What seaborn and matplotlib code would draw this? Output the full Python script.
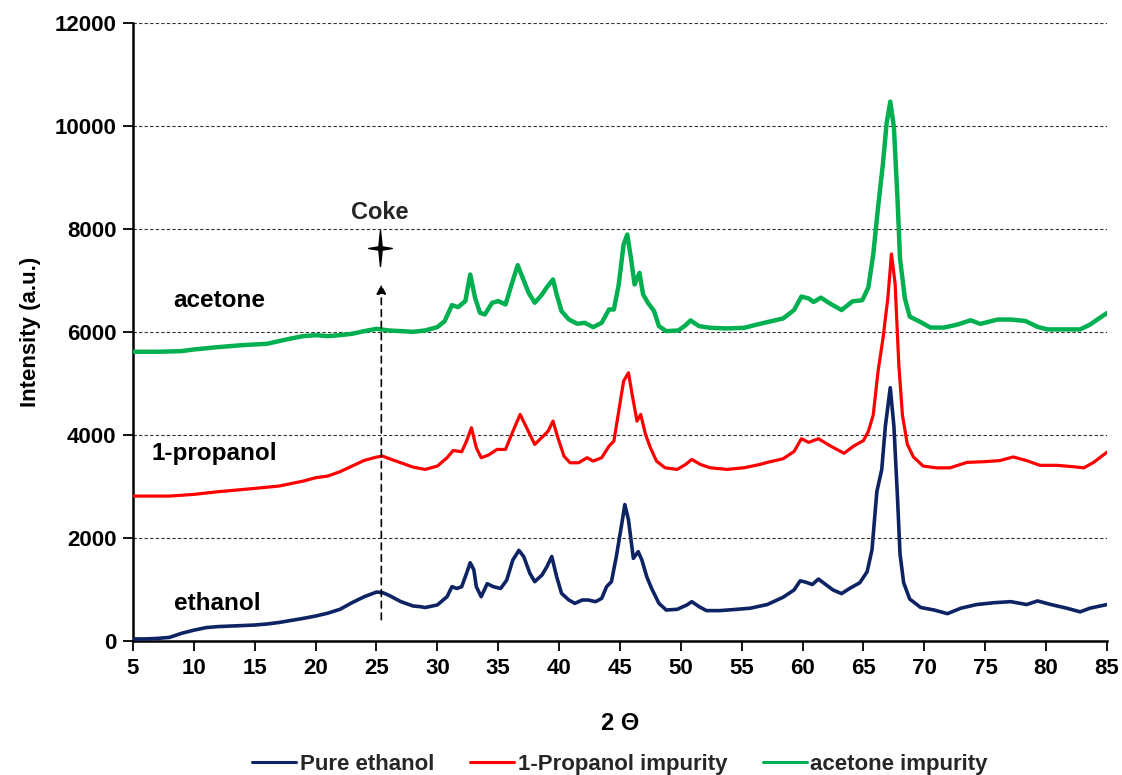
import matplotlib
matplotlib.use("Agg")
import matplotlib.pyplot as plt
import seaborn as sns
import pandas as pd
from matplotlib.path import Path

# ---------------- data ----------------
eth_x = [5, 6, 7, 8, 9, 10, 11, 12, 13, 14, 15, 16, 17, 18, 19, 20, 21, 22, 23, 24, 25, 25.5, 26, 27, 28, 28.6, 29, 30,
         30.8, 31.2, 31.6, 32.0, 32.4, 32.7, 33.0, 33.2, 33.6, 34.1, 34.6, 35.2, 35.7, 36.2, 36.7, 37.1, 37.6, 38.0,
         38.6, 39.0, 39.4, 39.8, 40.2, 40.8, 41.3, 41.9, 42.4, 43.0, 43.5, 43.9, 44.3, 44.7, 45.2, 45.4, 45.7, 46.1,
         46.5, 46.8, 47.2, 47.6, 48.2, 48.8, 49.7, 50.5, 50.9, 51.5, 52.1, 53.2, 54.6, 55.7, 57.1, 58.4, 59.3, 59.8,
         60.2, 60.8, 61.3, 61.9, 62.5, 63.2, 63.9, 64.7, 65.3, 65.7, 66.1, 66.5, 66.8, 67.2, 67.5, 67.8, 68.0, 68.3,
         68.8, 69.7, 70.8, 71.9, 73.0, 74.3, 75.7, 77.1, 78.4, 79.3, 80.4, 81.7, 82.8, 83.6, 85]
eth_y = [40, 40, 50, 70, 150, 210, 260, 280, 290, 300, 310, 330, 360, 400, 440, 485, 540, 615, 745, 860, 950, 940, 890,
         765, 680, 667, 650, 700, 861, 1055, 1020, 1055, 1314, 1520, 1380, 1055, 861, 1113, 1055, 1020, 1184, 1573,
         1760, 1637, 1314, 1152, 1282, 1443, 1640, 1249, 926, 796, 731, 796, 796, 764, 828, 1055, 1152, 1637, 2350,
         2650, 2350, 1605, 1735, 1573, 1249, 1020, 731, 602, 615, 700, 764, 667, 590, 590, 615, 637, 708, 850, 991,
         1168, 1147, 1097, 1203, 1097, 991, 920, 1026, 1132, 1345, 1769, 2902, 3326, 4175, 4918, 4175, 2760, 1698,
         1132, 814, 651, 602, 531, 637, 708, 743, 764, 708, 778, 708, 637, 566, 637, 708]

pro_x = [5, 8, 10, 12, 15, 17, 19, 20, 21, 22, 23, 24, 25, 25.5, 26, 27, 28, 29, 30, 30.8, 31.3, 32.0, 32.4, 32.8,
         33.2, 33.6, 34.2, 34.9, 35.6, 36.1, 36.8, 37.2, 38.0, 38.7, 39.1, 39.5, 39.9, 40.4, 40.9, 41.6, 42.3, 42.8,
         43.5, 44.1, 44.5, 44.9, 45.3, 45.7, 46.0, 46.4, 46.7, 47.1, 47.5, 48.0, 48.7, 49.7, 50.4, 50.9, 51.6, 52.4,
         53.8, 55.2, 56.5, 57.1, 58.4, 59.3, 59.9, 60.5, 61.3, 62.3, 63.4, 64.2, 65.0, 65.4, 65.8, 66.2, 66.6, 67.0,
         67.3, 67.6, 67.9, 68.2, 68.6, 69.1, 69.9, 71.0, 72.1, 73.5, 74.9, 76.2, 77.3, 78.4, 79.5, 80.9, 82.3, 83.1,
         83.9, 85]
pro_y = [2814, 2814, 2847, 2899, 2963, 3009, 3106, 3170, 3203, 3287, 3397, 3507, 3571, 3591, 3545, 3461, 3377, 3332,
         3397, 3559, 3700, 3675, 3882, 4141, 3753, 3559, 3610, 3720, 3720, 4011, 4400, 4206, 3817, 3979, 4076, 4270,
         3947, 3591, 3461, 3461, 3559, 3494, 3559, 3785, 3882, 4464, 5047, 5208, 4788, 4270, 4400, 4011, 3753, 3494,
         3364, 3332, 3429, 3526, 3429, 3364, 3332, 3364, 3429, 3468, 3539, 3680, 3928, 3857, 3928, 3786, 3645, 3786,
         3892, 4069, 4388, 5237, 5874, 6652, 7516, 6935, 5379, 4388, 3822, 3574, 3397, 3362, 3362, 3468, 3482, 3503,
         3574, 3503, 3411, 3411, 3383, 3362, 3468, 3666]

ace_x = [5, 7, 9, 10, 12, 14, 15, 16, 17, 18, 19, 20, 21, 22, 23, 24, 25, 26, 27, 28, 29, 30, 30.6, 31.2, 31.7, 32.3,
         32.7, 33.1, 33.5, 33.9, 34.5, 35.0, 35.6, 36.1, 36.6, 36.9, 37.5, 38.0, 38.6, 39.0, 39.5, 39.8, 40.2, 40.8,
         41.5, 42.1, 42.8, 43.5, 44.1, 44.5, 44.9, 45.3, 45.6, 45.9, 46.2, 46.6, 46.9, 47.3, 47.8, 48.2, 48.8, 49.8,
         50.4, 50.8, 51.5, 52.4, 53.8, 55.2, 56.5, 57.1, 58.4, 59.3, 59.9, 60.5, 60.9, 61.5, 62.3, 63.2, 64.1, 64.9,
         65.4, 65.8, 66.2, 66.6, 66.9, 67.2, 67.5, 67.8, 68.0, 68.4, 68.8, 69.7, 70.5, 71.6, 72.7, 73.8, 74.6, 76.0,
         77.1, 78.3, 79.3, 80.1, 81.5, 82.8, 83.6, 85]
ace_y = [5616, 5616, 5629, 5661, 5707, 5745, 5758, 5771, 5823, 5875, 5920, 5939, 5920, 5939, 5965, 6017, 6062, 6030,
         6017, 6004, 6030, 6095, 6211, 6522, 6483, 6600, 7117, 6664, 6373, 6341, 6567, 6600, 6535, 6923, 7298, 7117,
         6761, 6567, 6729, 6871, 7020, 6729, 6406, 6244, 6159, 6179, 6095, 6179, 6438, 6438, 6923, 7699, 7893, 7440,
         6923, 7149, 6729, 6567, 6406, 6114, 6017, 6030, 6134, 6224, 6114, 6082, 6069, 6082, 6159, 6192, 6263, 6426,
         6688, 6652, 6582, 6667, 6546, 6426, 6596, 6617, 6865, 7502, 8422, 9271, 10049, 10474, 9979, 8563, 7431, 6652,
         6299, 6192, 6086, 6086, 6143, 6228, 6157, 6242, 6242, 6214, 6100, 6051, 6051, 6051, 6143, 6369]

series_names = ["Pure ethanol", "1-Propanol impurity", "acetone impurity"]
series_colors = ["#0d2363", "#ff0000", "#00b050"]
series_lw = [2.6, 2.3, 3.2]

x_ticks = list(range(5, 90, 5))
y_ticks = list(range(0, 14000, 2000))

curve_labels = ["ethanol", "1-propanol", "acetone"]
curve_label_pos = [(11.9, 720), (11.7, 3650), (12.1, 6620)]

coke_x = 25.4
coke_text_y = 8330
coke_star_y = 7640
arrow_bottom, arrow_top = 360, 6980

# ---------------- figure ----------------
sns.set_theme(style="white")
plt.rcParams["font.family"] = ["Liberation Sans", "DejaVu Sans"]
plt.rcParams["font.weight"] = "bold"

fig = plt.figure(figsize=(11.22, 7.75), dpi=100)
ax = fig.add_axes([0.1185, 0.1729, 0.8681, 0.7974])

frames = []
for name, xs, ys in zip(series_names, [eth_x, pro_x, ace_x], [eth_y, pro_y, ace_y]):
    frames.append(pd.DataFrame({"x": xs, "y": ys, "series": name}))
df = pd.concat(frames, ignore_index=True)

for name, col, lw in zip(series_names, series_colors, series_lw):
    sub = df[df["series"] == name]
    sns.lineplot(data=sub, x="x", y="y", color=col, linewidth=lw, ax=ax,
                 estimator=None, sort=False, label=name, zorder=3)

ax.set_xlim(5, 85)
ax.set_ylim(0, 12000)
ax.set_xticks(x_ticks)
ax.set_yticks(y_ticks)
ax.tick_params(axis="both", labelsize=16, direction="out", length=7, width=1.3, color="black",
               left=True, bottom=True, pad=5, labelcolor="black")
for lab in ax.get_xticklabels() + ax.get_yticklabels():
    lab.set_fontweight("bold")

ax.yaxis.grid(True, linestyle=(0, (3, 2)), color="#333333", linewidth=0.8)
ax.xaxis.grid(False)
for s in ["top", "right"]:
    ax.spines[s].set_visible(False)
for s in ["left", "bottom"]:
    ax.spines[s].set_color("black")
    ax.spines[s].set_linewidth(1.8)

ax.set_xlabel("2 Θ", fontsize=17, fontweight="bold", labelpad=24, color="black")
ax.set_ylabel("Intensity (a.u.)", fontsize=16, fontweight="bold", labelpad=10, color="black")

for txt, (tx, ty) in zip(curve_labels, curve_label_pos):
    ax.text(tx, ty, txt, fontsize=17.5, fontweight="bold", ha="center", va="center", color="black")

# Coke annotation
ax.annotate("", xy=(coke_x, arrow_top), xytext=(coke_x, arrow_bottom),
            arrowprops=dict(arrowstyle="-|>", linestyle=(0, (4, 3)), color="black", lw=1.2,
                            mutation_scale=14))
star = Path([(0, 1.3), (0.12, 0.12), (0.85, 0), (0.12, -0.12), (0, -1.3), (-0.12, -0.12),
             (-0.85, 0), (-0.12, 0.12), (0, 1.3)],
            [Path.MOVETO] + [Path.LINETO] * 7 + [Path.CLOSEPOLY])
ax.plot([coke_x - 0.1], [coke_star_y], marker=star, markersize=26, color="black", zorder=5)
ax.text(coke_x - 0.1, coke_text_y, "Coke", fontsize=17, fontweight="bold", ha="center", va="center")

leg = ax.legend(loc="upper center", bbox_to_anchor=(0.5, -0.15), ncol=3, frameon=False,
                fontsize=16, handlelength=2.0, handletextpad=0.15, columnspacing=1.6)
for t in leg.get_texts():
    t.set_fontweight("bold")
for h in leg.get_lines():
    h.set_linewidth(2.2)

fig.savefig("out.png", dpi=100)
